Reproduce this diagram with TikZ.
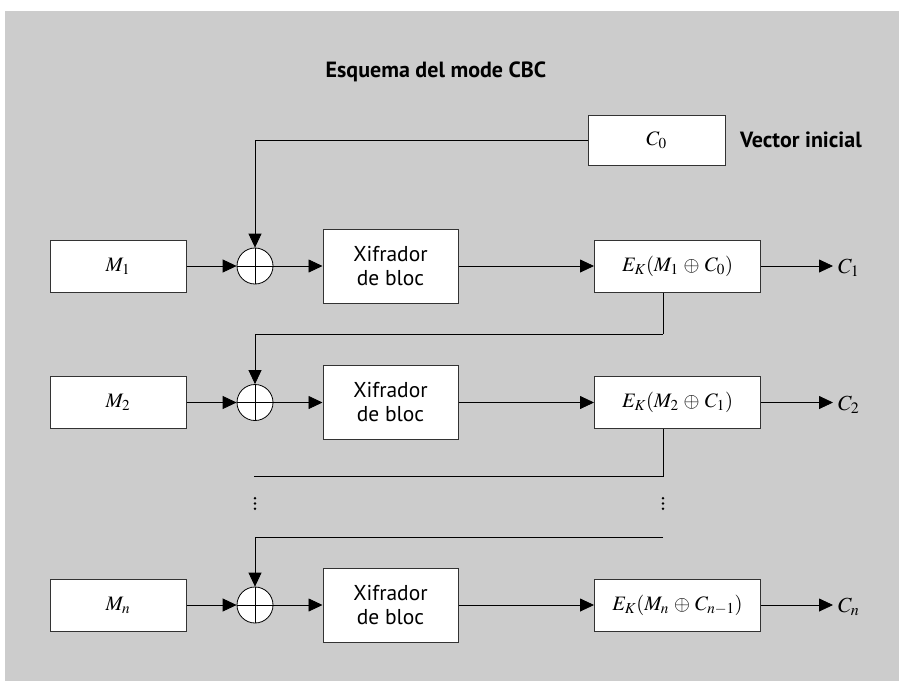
\documentclass[tikz,border=0pt]{standalone}
\usepackage[no-math]{fontspec}
\usepackage{mathptmx}
\newfontfamily\labelfont{PT Sans}
\usetikzlibrary{arrows.meta}
\definecolor{panel}{HTML}{CCCCCC}
\definecolor{edge}{HTML}{333333}
\newcommand{\xo}{\mathbin{\,\oplus\,}}
\tikzset{
  box/.style={draw=edge, line width=1pt, fill=white, inner sep=0pt, font=\fontsize{20.5}{20.5}\selectfont},
  xorgate/.style={draw=black, line width=0.8pt, fill=white, circle, minimum size=36pt, inner sep=0pt},
  link/.style={draw=black, line width=0.8pt},
  flow/.style={link, -{Triangle[length=14pt,width=13pt]}},
  sans/.style={font=\labelfont\fontsize{21.5}{24}\selectfont, align=center},
  sansbold/.style={font=\labelfont\bfseries\fontsize{22}{24}\selectfont},
  mathlabel/.style={font=\fontsize{21.5}{21.5}\selectfont, anchor=west, inner sep=0pt},
  ellipsis/.style={inner sep=0pt, minimum size=0pt},
}
\newcommand{\xorcross}[1]{%
  \draw[line width=0.8pt] (#1.north) -- (#1.south) (#1.west) -- (#1.east);}
\newcommand{\threedots}[1]{%
  \foreach \dy in {-5.3,0,5.3} \fill ([yshift=\dy pt]#1) circle (1.4pt);}
\begin{document}
\begin{tikzpicture}[x=1pt, y=-1pt]
  \useasboundingbox (0,0) rectangle (899,681);
  \fill[panel] (5,11) rectangle (899,681);

  \node[sansbold] (title) at (436,72) {Esquema del mode CBC};

  % initial vector
  \node[box, minimum width=137pt, minimum height=50pt] (c0) at (656.5,140) {$C_0$};
  \node[sansbold, anchor=west, inner sep=0pt] (vec) at (740,140) {Vector inicial};

  % row 1
  \node[box, minimum width=136pt, minimum height=52pt] (m1) at (118,266) {$M_1$};
  \node[xorgate] (x1) at (255,266) {};
  \xorcross{x1}
  \node[box, sans, minimum width=135pt, minimum height=74pt] (b1) at (390.5,266) {Xifrador\\de bloc};
  \node[box, minimum width=166pt, minimum height=52pt] (e1) at (677.5,266) {$E_K(M_1 \xo C_0)$};
  \coordinate (o1) at (833,266);
  \node[mathlabel] (c1) at (838,268) {$C_1$};

  % row 2
  \node[box, minimum width=136pt, minimum height=52pt] (m2) at (118,402.5) {$M_2$};
  \node[xorgate] (x2) at (255,402.5) {};
  \xorcross{x2}
  \node[box, sans, minimum width=135pt, minimum height=74pt] (b2) at (390.5,402.5) {Xifrador\\de bloc};
  \node[box, minimum width=166pt, minimum height=52pt] (e2) at (677.5,402.5) {$E_K(M_2 \xo C_1)$};
  \coordinate (o2) at (833,402.5);
  \node[mathlabel] (c2) at (838,404.5) {$C_2$};

  % row n
  \node[box, minimum width=136pt, minimum height=52pt] (mn) at (118,605) {$M_n$};
  \node[xorgate] (xn) at (255,605) {};
  \xorcross{xn}
  \node[box, sans, minimum width=135pt, minimum height=74pt] (bn) at (390.5,605) {Xifrador\\de bloc};
  \node[box, minimum width=166pt, minimum height=52pt] (en) at (677.5,605) {$E_K(M_n \xo C_{n-1})$};
  \coordinate (on) at (833,605);
  \node[mathlabel] (cn) at (838,607) {$C_n$};

  % omitted rows
  \node[ellipsis] (dl) at (255,503.5) {};
  \node[ellipsis] (dr) at (663,503.5) {};
  \threedots{dl}
  \threedots{dr}

  % forward paths
  \foreach \m/\x/\b/\e/\o in {m1/x1/b1/e1/o1, m2/x2/b2/e2/o2, mn/xn/bn/en/on} {
    \draw[flow] (\m.east) -- (\x.west);
    \draw[flow] (\x.east) -- (\b.west);
    \draw[flow] (\b.east) -- (\e.west);
    \draw[flow] (\e.east) -- (\o);
  }

  % chaining paths
  \draw[flow] (c0.west) -| (x1.north);
  \coordinate (k1) at (663,334);
  \draw[link] (e1.south -| k1) -- (k1);
  \draw[flow] (k1) -| (x2.north);
  \coordinate (k2) at (663,476);
  \coordinate (k2end) at (254,476);
  \draw[link] (e2.south -| k2) -- (k2) -- (k2end);
  \coordinate (k3) at (663,537);
  \draw[flow] (k3) -| (xn.north);
\end{tikzpicture}
\end{document}
